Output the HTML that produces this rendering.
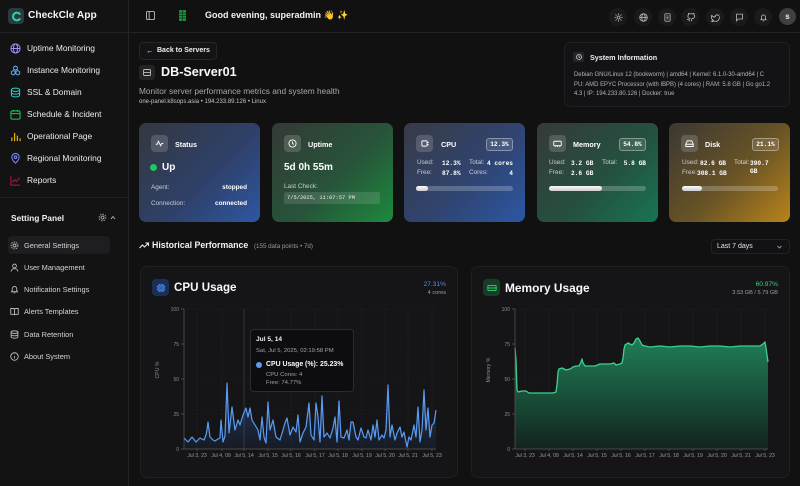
<!DOCTYPE html>
<html><head><meta charset="utf-8">
<style>
*{margin:0;padding:0;box-sizing:border-box}
body{width:800px;height:486px;overflow:hidden;background:#111112;font-family:"Liberation Sans","Noto Sans CJK SC",sans-serif;color:#eee;position:relative}
.a{position:absolute;white-space:nowrap}
.side{position:absolute;left:0;top:0;width:129px;height:486px;background:#131314;border-right:1px solid #242426}
.mi{position:absolute;left:10px;height:12px;display:flex;align-items:center;font-size:8.4px;color:#ececec;white-space:nowrap}
.mi svg{width:11px;height:11px;margin-right:6px;flex:none}
.si{position:absolute;left:10px;height:12px;display:flex;align-items:center;font-size:7.4px;color:#d4d4d4;white-space:nowrap}
.si svg{width:9px;height:9px;margin-right:5px;flex:none}
.hic{position:absolute;top:8px;width:18px;height:18px;border-radius:50%;background:#1a1a1b;display:flex;align-items:center;justify-content:center}
.hic svg{width:9px;height:9px}
.card{position:absolute;top:123px;width:121px;height:99px;border-radius:7px;overflow:hidden}
.ib{position:absolute;left:12px;top:12px;width:17px;height:17px;border-radius:4px;background:rgba(255,255,255,0.16);display:flex;align-items:center;justify-content:center}
.ib svg{width:9px;height:9px}
.ct{position:absolute;left:36px;top:17px;font-size:7.2px;font-weight:bold;color:#fff}
.badge{position:absolute;left:82px;top:15px;width:27px;height:13px;border:1px solid rgba(255,255,255,0.35);background:rgba(255,255,255,0.12);border-radius:3px;font-family:"Liberation Mono",monospace;font-weight:bold;font-size:6.2px;color:#fff;display:flex;align-items:center;justify-content:center}
.lb{position:absolute;font-size:6.4px;color:rgba(255,255,255,0.72);white-space:nowrap}
.vl{position:absolute;font-family:"Liberation Mono",monospace;font-weight:bold;font-size:6.2px;color:#fff;white-space:nowrap}
.bar{position:absolute;left:12px;top:63px;width:97px;height:5px;border-radius:3px;background:rgba(255,255,255,0.22)}
.bar i{position:absolute;left:0;top:0;height:5px;border-radius:3px;background:linear-gradient(180deg,#fafafa,#cfcfcf)}
.ccard{position:absolute;top:266px;height:212px;border-radius:7px;background:#151517;border:1px solid #202022}
</style></head>
<body>

<!-- SIDEBAR -->
<div class="side"></div>
<div class="a" style="left:8px;top:8px;width:16px;height:16px;border-radius:4px;background:#2b3a3a;display:flex;align-items:center;justify-content:center">
<svg width="11" height="11" viewBox="0 0 12 12"><path d="M9.5 3.2A4.2 4.2 0 1 0 9.5 8.8" fill="none" stroke="#2fd3a8" stroke-width="2.2" stroke-linecap="round"/></svg></div>
<div class="a" style="left:28px;top:10px;font-size:10.2px;font-weight:bold;color:#f5f5f5">CheckCle App</div>
<div class="a" style="left:0;top:32px;width:129px;height:1px;background:#242426"></div>

<div class="mi" style="top:42px"><svg viewBox="0 0 12 12" fill="none" stroke="#a78bfa" stroke-width="1.1"><circle cx="6" cy="6" r="5"/><ellipse cx="6" cy="6" rx="2.2" ry="5"/><path d="M1 6h10"/></svg>Uptime Monitoring</div>
<div class="mi" style="top:64px"><svg viewBox="0 0 12 12" fill="none" stroke="#60a5fa" stroke-width="1.1"><path d="M6 1l2 1.2v2.4L6 5.8 4 4.6V2.2z"/><path d="M3.5 6l2 1.2v2.4l-2 1.2-2-1.2V7.2z"/><path d="M8.5 6l2 1.2v2.4l-2 1.2-2-1.2V7.2z"/></svg>Instance Monitoring</div>
<div class="mi" style="top:86px"><svg viewBox="0 0 12 12" fill="none" stroke="#2dd4bf" stroke-width="1.1"><ellipse cx="6" cy="3" rx="4.5" ry="1.8"/><path d="M1.5 6c0 1 2 1.8 4.5 1.8S10.5 7 10.5 6M1.5 3v6c0 1 2 1.8 4.5 1.8s4.5-.8 4.5-1.8V3"/></svg>SSL &amp; Domain</div>
<div class="mi" style="top:108px"><svg viewBox="0 0 12 12" fill="none" stroke="#22c55e" stroke-width="1.1"><rect x="1" y="2" width="10" height="9" rx="1.5"/><path d="M1 5h10M4 1v2M8 1v2"/></svg>Schedule &amp; Incident</div>
<div class="mi" style="top:130px"><svg viewBox="0 0 12 12" fill="none" stroke="#eab308" stroke-width="1.3"><path d="M2 11V7M5 11V2M8 11V5M11 11V8"/></svg>Operational Page</div>
<div class="mi" style="top:152px"><svg viewBox="0 0 12 12" fill="none" stroke="#818cf8" stroke-width="1.1"><path d="M6 11s4-3.6 4-6.5a4 4 0 0 0-8 0C2 7.4 6 11 6 11z"/><circle cx="6" cy="4.6" r="1.4"/></svg>Regional Monitoring</div>
<div class="mi" style="top:174px"><svg viewBox="0 0 12 12" fill="none" stroke="#be123c" stroke-width="1.1"><path d="M1 1v10h10"/><path d="M2.5 8l2.5-3 2 2 3.5-4"/></svg>Reports</div>

<div class="a" style="left:0;top:197px;width:129px;height:1px;background:#1f1f21"></div>
<div class="a" style="left:11px;top:213px;font-size:8.4px;font-weight:bold;color:#f0f0f0">Setting Panel</div>
<svg class="a" style="left:98px;top:213px" width="9" height="9" viewBox="0 0 12 12" fill="none" stroke="#aaa" stroke-width="1.2"><circle cx="6" cy="6" r="2"/><circle cx="6" cy="6" r="4.5" stroke-dasharray="2 1.5"/></svg>
<svg class="a" style="left:110px;top:215px" width="6" height="5" viewBox="0 0 6 5" fill="none" stroke="#aaa" stroke-width="1"><path d="M1 4l2-2.5L5 4"/></svg>

<div class="a" style="left:8px;top:236px;width:102px;height:18px;border-radius:4px;background:#1e1e20"></div>
<div class="si" style="top:239px"><svg viewBox="0 0 12 12" fill="none" stroke="#bbb" stroke-width="1.2"><circle cx="6" cy="6" r="2"/><circle cx="6" cy="6" r="4.6" stroke-dasharray="2 1.4"/></svg>General Settings</div>
<div class="si" style="top:261px"><svg viewBox="0 0 12 12" fill="none" stroke="#bbb" stroke-width="1.2"><circle cx="6" cy="4" r="2.5"/><path d="M1.5 11.5c0-2.5 2-4 4.5-4s4.5 1.5 4.5 4"/></svg>User Management</div>
<div class="si" style="top:283px"><svg viewBox="0 0 12 12" fill="none" stroke="#bbb" stroke-width="1.2"><path d="M2 9h8L9 7.5V5a3 3 0 0 0-6 0v2.5z"/><path d="M5 10.5h2"/></svg>Notification Settings</div>
<div class="si" style="top:305px"><svg viewBox="0 0 12 12" fill="none" stroke="#bbb" stroke-width="1.2"><path d="M1 2h3.5C5.5 2 6 2.6 6 3.5V11c0-.8-.6-1.3-1.5-1.3H1zM11 2H7.5C6.5 2 6 2.6 6 3.5V11c0-.8.6-1.3 1.5-1.3H11z"/></svg>Alerts Templates</div>
<div class="si" style="top:328px"><svg viewBox="0 0 12 12" fill="none" stroke="#bbb" stroke-width="1.2"><ellipse cx="6" cy="2.8" rx="4.5" ry="1.7"/><path d="M1.5 2.8v6.4c0 1 2 1.7 4.5 1.7s4.5-.7 4.5-1.7V2.8M1.5 6c0 1 2 1.7 4.5 1.7s4.5-.7 4.5-1.7"/></svg>Data Retention</div>
<div class="si" style="top:350px"><svg viewBox="0 0 12 12" fill="none" stroke="#bbb" stroke-width="1.2"><circle cx="6" cy="6" r="5"/><path d="M6 5.5v3M6 3.5v.3"/></svg>About System</div>

<!-- HEADER -->
<div class="a" style="left:129px;top:32px;width:671px;height:1px;background:#242426"></div>
<svg class="a" style="left:146px;top:11px" width="9" height="9" viewBox="0 0 10 10" fill="none" stroke="#bbb" stroke-width="1"><rect x="0.5" y="0.5" width="9" height="9" rx="1.5"/><path d="M3.5 0.5v9"/></svg>
<svg class="a" style="left:179px;top:10px" width="7" height="11" viewBox="0 0 7 11"><rect width="7" height="11" rx="1" fill="#1f8f3a"/><path d="M0 3h7M0 5.5h7M0 8h7M3.5 0v11" stroke="#0f3d1a" stroke-width="0.8"/></svg>
<div class="a" style="left:205px;top:10px;font-size:9px;font-weight:bold;color:#f2f2f2">Good evening, superadmin <span style="font-size:9px">👋</span> <span style="color:#facc15">✨</span></div>

<div class="hic" style="left:609px"><svg viewBox="0 0 12 12" fill="none" stroke="#bbb" stroke-width="1.1"><circle cx="6" cy="6" r="2"/><path d="M6 0.5v2M6 9.5v2M0.5 6h2M9.5 6h2M2 2l1.4 1.4M8.6 8.6L10 10M2 10l1.4-1.4M8.6 3.4L10 2"/></svg></div>
<div class="hic" style="left:634px"><svg viewBox="0 0 12 12" fill="none" stroke="#bbb" stroke-width="1.1"><circle cx="6" cy="6" r="5"/><ellipse cx="6" cy="6" rx="2.2" ry="5"/><path d="M1 6h10"/></svg></div>
<div class="hic" style="left:658px"><svg viewBox="0 0 12 12" fill="none" stroke="#bbb" stroke-width="1.1"><rect x="2.5" y="1" width="7" height="10" rx="1"/><path d="M4.5 4h3M4.5 6h3M4.5 8h3"/></svg></div>
<div class="hic" style="left:681px"><svg viewBox="0 0 12 12" fill="none" stroke="#bbb" stroke-width="1.1"><path d="M4.5 11V9C2 9.5 1.5 8 1.5 8M7.5 11V8.8c0-.8.3-1.2.6-1.4 2-.2 3.3-1 3.3-3.3 0-.8-.3-1.4-.8-2 .1-.5.1-1.1-.1-1.6 0 0-.6-.2-1.9.7a6.5 6.5 0 0 0-3.3 0C4 .3 3.4.5 3.4.5c-.2.5-.2 1.1-.1 1.6-.5.6-.8 1.2-.8 2 0 2.3 1.3 3.1 3.3 3.3"/></svg></div>
<div class="hic" style="left:706px"><svg viewBox="0 0 12 12" fill="none" stroke="#bbb" stroke-width="1.1"><path d="M11 2.5s-.8.5-1.6.6A2.3 2.3 0 0 0 5.5 4.8v.6A5.4 5.4 0 0 1 1 3.2s-2 4.6 2.5 6.6A6 6 0 0 1 .5 10.8c5 2.8 11 0 11-6.3"/></svg></div>
<div class="hic" style="left:730px"><svg viewBox="0 0 12 12" fill="none" stroke="#bbb" stroke-width="1.1"><path d="M2 1.5h8v6.5H4.5L2 10.5z"/></svg></div>
<div class="hic" style="left:754px"><svg viewBox="0 0 12 12" fill="none" stroke="#bbb" stroke-width="1.1"><path d="M2.5 9h7L8.5 7.5V5a2.5 2.5 0 0 0-5 0v2.5z"/><path d="M5 10.5h2"/></svg></div>
<div class="a" style="left:779px;top:8px;width:17px;height:17px;border-radius:50%;background:#3f3f42;font-size:8px;font-weight:bold;color:#eee;display:flex;align-items:center;justify-content:center">s</div>

<!-- TITLE AREA -->
<div class="a" style="left:139px;top:42px;width:78px;height:18px;border:1px solid #262628;border-radius:4px;background:#141416"></div>
<div class="a" style="left:146px;top:46px;font-size:7.2px;color:#eee">←</div>
<div class="a" style="left:157px;top:46.5px;font-size:7px;font-weight:bold;color:#eee">Back to Servers</div>
<div class="a" style="left:139px;top:65px;width:16px;height:15px;border-radius:3px;background:#232325;display:flex;align-items:center;justify-content:center">
<svg width="8" height="7" viewBox="0 0 8 7" fill="none" stroke="#bbb" stroke-width="0.9"><rect x="0.5" y="0.5" width="7" height="6" rx="1"/><path d="M0.5 3.5h7"/></svg></div>
<div class="a" style="left:161px;top:64.5px;font-size:12.6px;font-weight:bold;color:#fafafa">DB-Server01</div>
<div class="a" style="left:139px;top:86px;font-size:8.3px;color:#a8a8aa">Monitor server performance metrics and system health</div>
<div class="a" style="left:139px;top:98.5px;font-size:6px;color:#c4c4c4">one-panel.k8sops.asia • 194.233.89.126 • Linux</div>

<div class="a" style="left:564px;top:42px;width:226px;height:65px;border:1px solid #1f1f21;border-radius:6px;background:#131315"></div>
<div class="a" style="left:573px;top:52px;width:11px;height:10px;border-radius:2px;background:#262628;display:flex;align-items:center;justify-content:center">
<svg width="6" height="6" viewBox="0 0 12 12" fill="none" stroke="#ccc" stroke-width="1.6"><circle cx="6" cy="6" r="5"/><path d="M6 3v3l2 1.5"/></svg></div>
<div class="a" style="left:590px;top:53px;font-size:7.2px;font-weight:bold;color:#eee">System Information</div>
<div class="a" style="left:574px;top:71px;font-size:5.95px;color:#b4b4b6;line-height:9.5px">Debian GNU/Linux 12 (bookworm) | amd64 | Kernel: 6.1.0-30-amd64 | C<br>PU: AMD EPYC Processor (with IBPB) (4 cores) | RAM: 5.8 GB | Go go1.2<br>4.3 | IP: 194.233.80.126 | Docker: true</div>

<!-- CARDS -->
<div class="card" style="left:139px;background:linear-gradient(135deg,#34373f 0%,#2f4068 55%,#2d57a2 100%)">
 <div class="ib"><svg viewBox="0 0 12 12" fill="none" stroke="#fff" stroke-width="1.2"><path d="M1 7h2l1.5-4 3 6 1.5-3h2"/></svg></div>
 <div class="ct">Status</div>
 <div class="a" style="left:11px;top:41px;width:7px;height:7px;border-radius:50%;background:#22c55e"></div>
 <div class="a" style="left:23px;top:39px;font-size:10px;font-weight:bold;color:#fff">Up</div>
 <div class="lb" style="left:12px;top:61px">Agent:</div>
 <div class="lb" style="right:13px;top:61px;color:#fff;font-weight:bold">stopped</div>
 <div class="lb" style="left:12px;top:77px">Connection:</div>
 <div class="lb" style="right:13px;top:77px;color:#fff;font-weight:bold">connected</div>
</div>
<div class="card" style="left:272px;background:linear-gradient(135deg,#333a35 0%,#27543a 55%,#1c8a3c 100%)">
 <div class="ib"><svg viewBox="0 0 12 12" fill="none" stroke="#fff" stroke-width="1.2"><circle cx="6" cy="6" r="4.8"/><path d="M6 3.3V6l1.8 1.2"/></svg></div>
 <div class="ct">Uptime</div>
 <div class="a" style="left:12px;top:39px;font-size:10px;font-weight:bold;color:#fff">5d 0h 55m</div>
 <div class="lb" style="left:12px;top:59.5px">Last Check:</div>
 <div class="a" style="left:12px;top:69px;width:96px;height:12px;border-radius:2px;background:rgba(255,255,255,0.12);font-family:'Liberation Mono',monospace;font-size:5.4px;color:#eee;padding-left:3px;line-height:12px">7/5/2025, 11:07:57 PM</div>
</div>
<div class="card" style="left:404px;background:linear-gradient(135deg,#383b45 0%,#304470 55%,#2c57a4 100%)">
 <div class="ib"><svg viewBox="0 0 12 12" fill="none" stroke="#fff" stroke-width="1.2"><rect x="2.5" y="2.5" width="7" height="7" rx="1"/><path d="M9.5 4.5h2M9.5 7.5h2"/></svg></div>
 <div class="ct" style="left:37px">CPU</div>
 <div class="badge">12.3%</div>
 <div class="lb" style="left:13px;top:36px">Used:</div><div class="vl" style="left:38px;top:36.5px">12.3%</div>
 <div class="lb" style="left:65px;top:36px">Total:</div><div class="vl" style="right:12px;top:36.5px">4 cores</div>
 <div class="lb" style="left:13px;top:46px">Free:</div><div class="vl" style="left:38px;top:46.5px">87.8%</div>
 <div class="lb" style="left:65px;top:46px">Cores:</div><div class="vl" style="right:12px;top:46.5px">4</div>
 <div class="bar"><i style="width:12px"></i></div>
</div>
<div class="card" style="left:537px;background:linear-gradient(135deg,#36393a 0%,#25503f 55%,#177552 100%)">
 <div class="ib"><svg viewBox="0 0 12 12" fill="none" stroke="#fff" stroke-width="1.2"><rect x="1" y="3" width="10" height="6" rx="1"/><path d="M3 9v1.5M6 9v1.5M9 9v1.5"/></svg></div>
 <div class="ct">Memory</div>
 <div class="badge">54.8%</div>
 <div class="lb" style="left:12px;top:36px">Used:</div><div class="vl" style="left:34px;top:36.5px">3.2 GB</div>
 <div class="lb" style="left:65px;top:36px">Total:</div><div class="vl" style="right:12px;top:36.5px">5.8 GB</div>
 <div class="lb" style="left:12px;top:46px">Free:</div><div class="vl" style="left:34px;top:46.5px">2.6 GB</div>
 <div class="bar"><i style="width:53px"></i></div>
</div>
<div class="card" style="left:669px;background:linear-gradient(135deg,#3a3833 0%,#6a5426 55%,#b8841a 100%)">
 <div class="ib"><svg viewBox="0 0 12 12" fill="none" stroke="#fff" stroke-width="1.2"><path d="M1 7l2-4.5h6L11 7v3H1z"/><path d="M1 7h10"/></svg></div>
 <div class="ct">Disk</div>
 <div class="badge" style="left:83px">21.1%</div>
 <div class="lb" style="left:13px;top:36px">Used:</div><div class="vl" style="left:31px;top:36.5px">82.6 GB</div>
 <div class="lb" style="left:65px;top:36px">Total:</div><div class="vl" style="left:81px;top:36.5px">390.7</div>
 <div class="vl" style="left:81px;top:45px">GB</div>
 <div class="lb" style="left:13px;top:46px">Free:</div><div class="vl" style="left:28px;top:46.5px">308.1 GB</div>
 <div class="bar" style="left:13px;width:96px"><i style="width:20px"></i></div>
</div>

<!-- HISTORICAL -->
<svg class="a" style="left:139px;top:242px" width="10" height="7" viewBox="0 0 10 7" fill="none" stroke="#eee" stroke-width="1.1"><path d="M0.5 6l3-3 2 2L9.5 1M6.5 1h3v3"/></svg>
<div class="a" style="left:152px;top:240px;font-size:8.8px;font-weight:bold;color:#f2f2f2">Historical Performance</div>
<div class="a" style="left:254px;top:242.5px;font-size:6.2px;color:#9a9a9c">(155 data points • 7d)</div>
<div class="a" style="left:711px;top:239px;width:79px;height:15px;border:1px solid #232325;border-radius:4px;background:#121214"></div>
<div class="a" style="left:717px;top:242.5px;font-size:7px;color:#e5e5e5">Last 7 days</div>
<svg class="a" style="left:777px;top:245px" width="5" height="4" viewBox="0 0 5 4" fill="none" stroke="#999" stroke-width="0.9"><path d="M0.5 1l2 2 2-2"/></svg>

<div class="ccard" style="left:140px;width:318px"></div>
<div class="ccard" style="left:471px;width:319px"></div>

<div class="a" style="left:152px;top:279px;width:17px;height:17px;border-radius:4px;background:#1b2f55;display:flex;align-items:center;justify-content:center">
<svg width="10" height="10" viewBox="0 0 12 12" fill="none" stroke="#4a8ff0" stroke-width="1.2"><rect x="2.5" y="2.5" width="7" height="7" rx="1"/><rect x="4.5" y="4.5" width="3" height="3"/><path d="M4.5 1v1.5M7.5 1v1.5M4.5 9.5V11M7.5 9.5V11M1 4.5h1.5M1 7.5h1.5M9.5 4.5H11M9.5 7.5H11"/></svg></div>
<div class="a" style="left:174px;top:280.5px;font-size:11.6px;font-weight:bold;color:#fafafa">CPU Usage</div>
<div class="a" style="right:354px;top:281px;font-size:6.6px;color:#4f8fe8;text-align:right">27.31%</div>
<div class="a" style="right:354px;top:290px;font-size:5.6px;color:#a0a0a2;text-align:right">4 cores</div>

<div class="a" style="left:483px;top:279px;width:17px;height:17px;border-radius:4px;background:#163d27;display:flex;align-items:center;justify-content:center">
<svg width="10" height="10" viewBox="0 0 12 12" fill="none" stroke="#2fc46a" stroke-width="1.3"><rect x="1" y="3" width="10" height="6" rx="1.2"/><path d="M1 6h10"/></svg></div>
<div class="a" style="left:505px;top:280.5px;font-size:11.9px;font-weight:bold;color:#fafafa">Memory Usage</div>
<div class="a" style="right:22px;top:281px;font-size:6.6px;color:#3ecf7c;text-align:right">60.97%</div>
<div class="a" style="right:22px;top:290px;font-size:5.6px;color:#a0a0a2;text-align:right">3.53 GB / 5.79 GB</div>

<svg class="a" style="left:0;top:0" width="800" height="486" viewBox="0 0 800 486">
<defs>
<linearGradient id="cg" x1="0" y1="383" x2="0" y2="449" gradientUnits="userSpaceOnUse"><stop offset="0" stop-color="#3b82f6" stop-opacity="0.35"/><stop offset="1" stop-color="#3b82f6" stop-opacity="0.05"/></linearGradient>
<linearGradient id="mg" x1="0" y1="340" x2="0" y2="449" gradientUnits="userSpaceOnUse"><stop offset="0" stop-color="#1f7d56"/><stop offset="1" stop-color="#13241e"/></linearGradient>
</defs>
<g fill="none" stroke="#252527" stroke-width="0.6" stroke-dasharray="2 2">
<path d="M184 309H436M184 344H436M184 379H436M184 414H436"/>
<path d="M515 309H768M515 344H768M515 379H768M515 414H768"/>
<path d="M197 309V449M222 309V449M268 309V449M291 309V449M315 309V449M338 309V449M362 309V449M385 309V449M408 309V449M432 309V449"/>
<path d="M525 309V449M549 309V449M573 309V449M597 309V449M621 309V449M645 309V449M669 309V449M693 309V449M717 309V449M741 309V449M765 309V449"/>
</g>
<path d="M244 309V449" fill="none" stroke="#3a3a3d" stroke-width="0.8"/>
<!-- CPU area -->
<path fill="url(#cg)" d="M184,449 L184,438 188,442 192,437 196,442 200,438 204,440 206,435 207,430 208,422 210,437 213,440 215,441 218,439 220,438 221,420 223,442 225,436 227,383 229,433 232,407 235,430 238,420 240,425 243,415 246,408 248,417 250,408 252,420 255,425 258,430 260,440 262,417 264,437 266,443 268,402 270,430 273,420 276,437 280,440 283,430 285,423 287,418 290,435 293,427 296,432 298,415 300,442 303,433 306,427 309,403 311,435 314,440 316,403 318,417 320,442 322,396 324,437 327,433 330,438 333,428 335,417 337,442 339,401 341,437 344,438 347,430 349,440 351,422 353,422 356,437 358,440 361,428 364,437 366,438 368,430 371,440 373,425 375,437 377,420 379,440 382,435 384,438 386,430 388,385 390,437 392,425 395,440 397,433 400,427 402,437 404,432 407,447 409,437 411,440 414,425 416,437 418,407 420,442 422,430 424,390 426,430 428,408 430,437 432,425 434,423 436,410 L436,449 Z"/>
<polyline fill="none" stroke="#5a9cf2" stroke-width="1.2" stroke-linejoin="round" points="184,438 188,442 192,437 196,442 200,438 204,440 206,435 207,430 208,422 210,437 213,440 215,441 218,439 220,438 221,420 223,442 225,436 227,383 229,433 232,407 235,430 238,420 240,425 243,415 246,408 248,417 250,408 252,420 255,425 258,430 260,440 262,417 264,437 266,443 268,402 270,430 273,420 276,437 280,440 283,430 285,423 287,418 290,435 293,427 296,432 298,415 300,442 303,433 306,427 309,403 311,435 314,440 316,403 318,417 320,442 322,396 324,437 327,433 330,438 333,428 335,417 337,442 339,401 341,437 344,438 347,430 349,440 351,422 353,422 356,437 358,440 361,428 364,437 366,438 368,430 371,440 373,425 375,437 377,420 379,440 382,435 384,438 386,430 388,385 390,437 392,425 395,440 397,433 400,427 402,437 404,432 407,447 409,437 411,440 414,425 416,437 418,407 420,442 422,430 424,390 426,430 428,408 430,437 432,425 434,423 436,410"/>
<!-- Memory area -->
<path fill="url(#mg)" d="M515,449 L515,348 516,360 517,390 518,392 522,391 526,391 529,393 540,393 553,393 556,392 557,385 558,372 559,369 562,368 566,370 570,369 573,367 576,366 579,366 581,362 582,359 583,363 585,366 595,366 600,364 610,364 614,363 616,365 620,364 622,363 623,358 624,349 625,345 628,343 632,345 634,343 636,339 638,338 640,341 642,345 645,346 650,347 660,346 670,347 680,346 690,346 700,347 710,346 720,346 730,347 740,346 750,346 760,346 763,344 765,342 766,348 767,355 768,362 L768,449 Z"/>
<polyline fill="none" stroke="#3fd08f" stroke-width="1.3" stroke-linejoin="round" points="515,348 516,360 517,390 518,392 522,391 526,391 529,393 540,393 553,393 556,392 557,385 558,372 559,369 562,368 566,370 570,369 573,367 576,366 579,366 581,362 582,359 583,363 585,366 595,366 600,364 610,364 614,363 616,365 620,364 622,363 623,358 624,349 625,345 628,343 632,345 634,343 636,339 638,338 640,341 642,345 645,346 650,347 660,346 670,347 680,346 690,346 700,347 710,346 720,346 730,347 740,346 750,346 760,346 763,344 765,342 766,348 767,355 768,362"/>
<!-- axes -->
<g fill="none" stroke="#5a5a5d" stroke-width="0.7">
<path d="M184 309V449H436M515 309V449H768"/>
<path d="M181 309H184M181 344H184M181 379H184M181 414H184M181 449H184M512 309H515M512 344H515M512 379H515M512 414H515M512 449H515"/>
<path d="M197 449v2M222 449v2M244 449v2M268 449v2M291 449v2M315 449v2M338 449v2M362 449v2M385 449v2M408 449v2M432 449v2"/>
<path d="M525 449v2M549 449v2M573 449v2M597 449v2M621 449v2M645 449v2M669 449v2M693 449v2M717 449v2M741 449v2M765 449v2"/>
</g>
<g font-family="Liberation Sans, sans-serif" font-size="5" fill="#8e8e90" text-anchor="end">
<text x="179" y="311">100</text><text x="179" y="346">75</text><text x="179" y="381">50</text><text x="179" y="416">25</text><text x="179" y="451">0</text>
<text x="510" y="311">100</text><text x="510" y="346">75</text><text x="510" y="381">50</text><text x="510" y="416">25</text><text x="510" y="451">0</text>
</g>
<g font-family="Liberation Sans, sans-serif" font-size="5.2" fill="#9a9a9c" text-anchor="middle">
<text x="197" y="457">Jul 3, 23</text><text x="221" y="457">Jul 4, 09</text><text x="244" y="457">Jul 5, 14</text><text x="268" y="457">Jul 5, 15</text><text x="291" y="457">Jul 5, 16</text><text x="315" y="457">Jul 5, 17</text><text x="338" y="457">Jul 5, 18</text><text x="362" y="457">Jul 5, 19</text><text x="385" y="457">Jul 5, 20</text><text x="408" y="457">Jul 5, 21</text><text x="432" y="457">Jul 5, 23</text>
<text x="525" y="457">Jul 3, 23</text><text x="549" y="457">Jul 4, 09</text><text x="573" y="457">Jul 5, 14</text><text x="597" y="457">Jul 5, 15</text><text x="621" y="457">Jul 5, 16</text><text x="645" y="457">Jul 5, 17</text><text x="669" y="457">Jul 5, 18</text><text x="693" y="457">Jul 5, 19</text><text x="717" y="457">Jul 5, 20</text><text x="741" y="457">Jul 5, 21</text><text x="765" y="457">Jul 5, 23</text>
</g>
<g font-family="Liberation Sans, sans-serif" font-size="5.2" fill="#8e8e90" text-anchor="middle">
<text transform="translate(159 370) rotate(-90)">CPU %</text>
<text transform="translate(490 370) rotate(-90)">Memory %</text>
</g>
</svg>

<!-- Tooltip -->
<div class="a" style="left:250px;top:329px;width:104px;height:63px;border:1px solid #2c2c2e;border-radius:4px;background:rgba(14,14,16,0.96)"></div>
<div class="a" style="left:256px;top:336px;font-size:6.6px;font-weight:bold;color:#f2f2f2">Jul 5, 14</div>
<div class="a" style="left:256px;top:347.5px;font-size:5.9px;color:#a4a4a6">Sat, Jul 5, 2025, 02:19:58 PM</div>
<div class="a" style="left:256px;top:362px;width:6px;height:6px;border-radius:50%;background:#5a9cf2"></div>
<div class="a" style="left:266px;top:361px;font-size:6.9px;font-weight:bold;color:#fafafa">CPU Usage (%): 25.23%</div>
<div class="a" style="left:266px;top:372px;font-size:5.9px;color:#a4a4a6">CPU Cores: 4</div>
<div class="a" style="left:266px;top:380px;font-size:5.9px;color:#a4a4a6">Free: 74.77%</div>

</body></html>
